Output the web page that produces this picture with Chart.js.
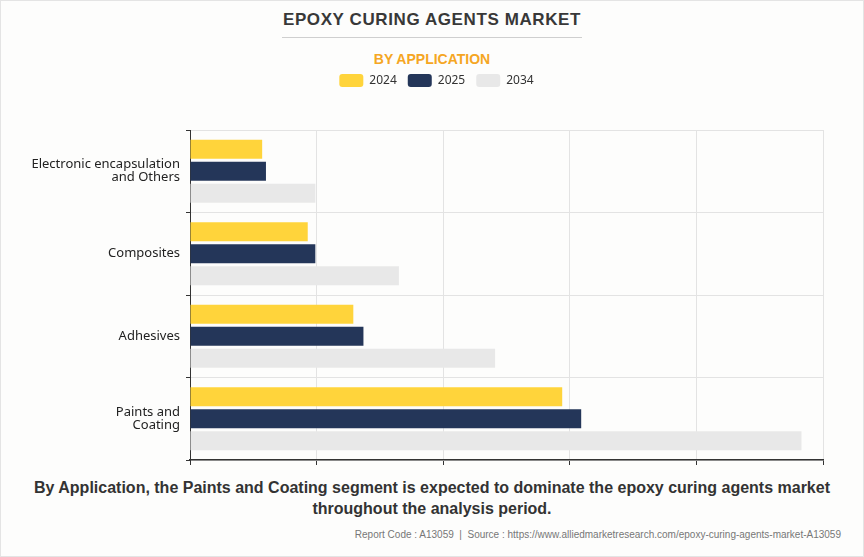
<!DOCTYPE html>
<html>
<head>
<meta charset="utf-8">
<script src="https://cdn.jsdelivr.net/npm/chart.js@4.4.1/dist/chart.umd.min.js"></script>
<style>
  html, body { margin: 0; padding: 0; }
  body {
    width: 864px; height: 557px; position: relative; overflow: hidden;
    background: #fdfdfc; font-family: "Liberation Sans", Arial, sans-serif;
    box-sizing: border-box; border: 1px solid #e4e4e4;
  }
  #title {
    position: absolute; left: 0; top: 9px; width: 862px; text-align: center;
    font-size: 17px; font-weight: bold; color: #383838; letter-spacing: 0.6px;
  }
  #rule {
    position: absolute; left: 281px; top: 36px; width: 300px; height: 1px; background: #cfcfcf;
  }
  #sub {
    position: absolute; left: 0; top: 50px; width: 862px; text-align: center;
    font-size: 14px; font-weight: bold; color: #f5a623;
  }
  #box { position: absolute; left: -1px; top: 62px; width: 864px; height: 407px; }
  #note {
    position: absolute; left: 0; top: 476px; width: 862px; text-align: center;
    font-size: 16px; font-weight: bold; color: #333; line-height: 21px;
  }
  #source {
    position: absolute; right: 22px; top: 528px; font-size: 10px; color: #777;
  }
</style>
</head>
<body>
<div id="title">EPOXY CURING AGENTS MARKET</div>
<div id="rule"></div>
<div id="sub">BY APPLICATION</div>
<div id="box"><canvas id="appChart"></canvas></div>
<div id="note">By Application, the Paints and Coating segment is expected to dominate the epoxy curing agents market<br>throughout the analysis period.</div>
<div id="source">Report Code : A13059&nbsp; | &nbsp;Source : https://www.alliedmarketresearch.com/epoxy-curing-agents-market-A13059</div>

<script>
// segments (top to bottom as in the chart)
let applications = [
    ["Electronic encapsulation", "and Others"],
    "Composites",
    "Adhesives",
    ["Paints and", "Coating"]
];
// values (axis 0..5, labels hidden in source)
let values2024 = [0.57, 0.93, 1.29, 2.94];
let values2025 = [0.60, 0.99, 1.37, 3.09];
let values2034 = [0.99, 1.65, 2.41, 4.83];
let years = ["2024", "2025", "2034"];
let xMax = 5;

// legend: fixed block height, and nudged right to sit over the page centre
let legendSpace = {
    id: "legendSpace",
    beforeInit: function (chart) {
        let fit = chart.legend.fit;
        chart.legend.fit = function () {
            fit.call(this);
            this.height = 67;
        };
    },
    afterLayout: function (chart) {
        chart.legend.left += 20;
        chart.legend.right += 20;
    }
};

let ctx = document.getElementById("appChart").getContext("2d");
new Chart(ctx, {
    type: "bar",
    data: {
        labels: applications,
        datasets: [
            { label: years[0], data: values2024, backgroundColor: "#ffd43b" },
            { label: years[1], data: values2025, backgroundColor: "#243659" },
            { label: years[2], data: values2034, backgroundColor: "#e8e8e8" }
        ]
    },
    options: {
        indexAxis: "y",
        responsive: true,
        maintainAspectRatio: false,
        animation: false,
        categoryPercentage: 0.8,
        barPercentage: 0.86,
        layout: { padding: { left: 10, right: 41, top: 0, bottom: 0 } },
        scales: {
            x: {
                min: 0,
                max: xMax,
                ticks: { display: false, stepSize: 1 },
                grid: { color: "#e3e3e3", tickColor: "#333", tickLength: 5 },
                border: { color: "#333", width: 1.5 },
                afterFit: function (s) { s.height = 10; }
            },
            y: {
                ticks: {
                    color: "#222",
                    font: { family: "'Noto Sans', 'Open Sans', sans-serif", size: 13, lineHeight: 1.0 },
                    padding: 6
                },
                grid: { color: "#e3e3e3", tickColor: "#333", tickLength: 4 },
                border: { color: "#333", width: 1 },
                afterFit: function (s) {
                    s.width = 180;
                    s.paddingTop = 0;
                    s.paddingBottom = 0;
                }
            }
        },
        plugins: {
            legend: {
                position: "top",
                labels: {
                    boxWidth: 24,
                    boxHeight: 13,
                    useBorderRadius: true,
                    borderRadius: 3,
                    padding: 11,
                    color: "#333",
                    font: { family: "'Noto Sans', 'Open Sans', sans-serif", size: 12 }
                }
            },
            tooltip: { enabled: false }
        }
    },
    plugins: [legendSpace]
});
</script>
</body>
</html>
